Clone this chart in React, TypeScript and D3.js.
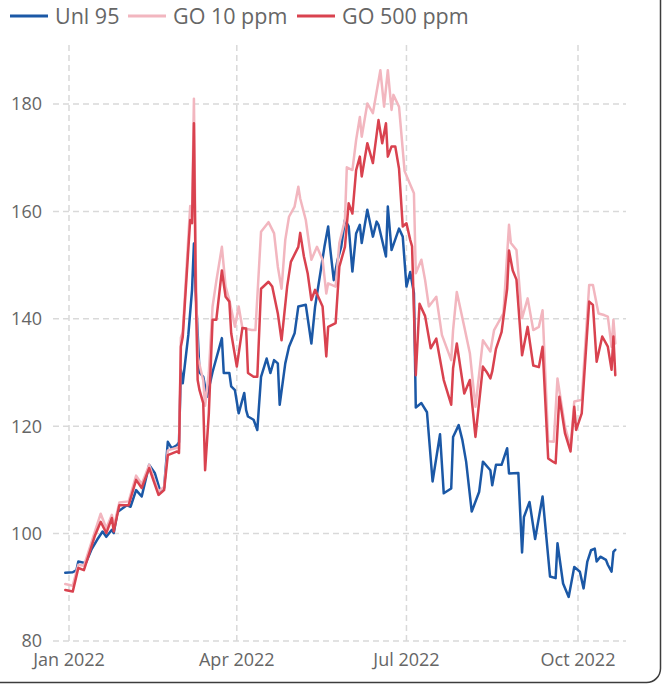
import React from "react";
import * as d3 from "d3";

const unlDates = ["2021-12-30","2022-01-03","2022-01-05","2022-01-06","2022-01-10","2022-01-13","2022-01-16","2022-01-19","2022-01-21","2022-01-24","2022-01-25","2022-01-27","2022-02-01","2022-02-03","2022-02-06","2022-02-09","2022-02-13","2022-02-16","2022-02-19","2022-02-21","2022-02-23","2022-02-25","2022-02-28","2022-03-01","2022-03-02","2022-03-03","2022-03-06","2022-03-08","2022-03-09","2022-03-10","2022-03-12","2022-03-14","2022-03-16","2022-03-19","2022-03-24","2022-03-25","2022-03-28","2022-03-29","2022-03-31","2022-04-02","2022-04-05","2022-04-06","2022-04-07","2022-04-10","2022-04-12","2022-04-14","2022-04-17","2022-04-19","2022-04-21","2022-04-23","2022-04-24","2022-04-27","2022-04-29","2022-05-02","2022-05-04","2022-05-08","2022-05-11","2022-05-13","2022-05-18","2022-05-20","2022-05-21","2022-05-23","2022-05-25","2022-05-27","2022-05-29","2022-05-31","2022-06-02","2022-06-04","2022-06-06","2022-06-07","2022-06-10","2022-06-13","2022-06-15","2022-06-16","2022-06-20","2022-06-21","2022-06-23","2022-06-27","2022-06-29","2022-07-01","2022-07-03","2022-07-05","2022-07-06","2022-07-09","2022-07-12","2022-07-15","2022-07-19","2022-07-21","2022-07-25","2022-07-26","2022-07-29","2022-07-31","2022-08-02","2022-08-05","2022-08-09","2022-08-11","2022-08-15","2022-08-16","2022-08-18","2022-08-21","2022-08-24","2022-08-25","2022-08-30","2022-09-01","2022-09-02","2022-09-05","2022-09-08","2022-09-12","2022-09-16","2022-09-19","2022-09-20","2022-09-23","2022-09-26","2022-09-29","2022-10-02","2022-10-04","2022-10-06","2022-10-08","2022-10-10","2022-10-11","2022-10-13","2022-10-16","2022-10-17","2022-10-19","2022-10-20","2022-10-21"];
const unlValues = [92.7,92.8,93.2,94.8,94.5,97.0,98.8,100.4,99.4,100.7,100.1,104.0,105.3,105.0,108.1,106.9,112.8,111.3,107.8,108.5,117.1,115.9,116.5,117.0,130.5,128.0,137.0,145.4,154.0,144.8,130.0,129.2,125.5,130.1,136.4,129.9,129.9,127.4,126.7,122.4,126.2,123.0,121.8,121.2,119.3,129.2,132.6,129.9,132.3,131.7,124.0,131.7,134.8,137.3,142.3,142.6,135.4,142.3,153.4,157.2,153.4,147.2,150.9,153.4,158.4,157.2,148.8,155.9,157.5,154.1,160.3,155.3,158.1,157.5,151.6,160.9,152.8,156.8,155.3,146.0,148.7,144.8,123.5,124.3,122.6,109.7,118.5,107.5,108.4,118.0,120.2,117.4,113.4,104.1,107.8,113.4,111.8,109.0,112.8,112.8,115.9,111.2,111.3,96.5,103.1,105.9,99.0,106.9,92.0,91.7,98.2,90.7,88.2,93.8,92.9,89.8,94.8,96.9,97.2,94.8,95.7,95.1,94.2,92.9,96.6,97.0];

const go10Dates = ["2021-12-30","2022-01-03","2022-01-06","2022-01-09","2022-01-15","2022-01-18","2022-01-21","2022-01-24","2022-01-25","2022-01-28","2022-02-02","2022-02-06","2022-02-09","2022-02-13","2022-02-18","2022-02-21","2022-02-23","2022-02-28","2022-03-01","2022-03-02","2022-03-03","2022-03-07","2022-03-08","2022-03-09","2022-03-10","2022-03-11","2022-03-12","2022-03-14","2022-03-15","2022-03-17","2022-03-19","2022-03-21","2022-03-24","2022-03-26","2022-03-28","2022-03-31","2022-04-02","2022-04-04","2022-04-09","2022-04-11","2022-04-14","2022-04-18","2022-04-21","2022-04-23","2022-04-25","2022-04-27","2022-04-29","2022-05-02","2022-05-04","2022-05-05","2022-05-08","2022-05-10","2022-05-11","2022-05-14","2022-05-17","2022-05-19","2022-05-20","2022-05-24","2022-05-26","2022-05-29","2022-05-30","2022-06-02","2022-06-04","2022-06-06","2022-06-07","2022-06-10","2022-06-13","2022-06-17","2022-06-19","2022-06-21","2022-06-23","2022-06-24","2022-06-27","2022-06-30","2022-07-03","2022-07-05","2022-07-06","2022-07-09","2022-07-11","2022-07-13","2022-07-17","2022-07-20","2022-07-25","2022-07-26","2022-07-28","2022-08-01","2022-08-04","2022-08-07","2022-08-11","2022-08-15","2022-08-17","2022-08-22","2022-08-25","2022-08-26","2022-08-29","2022-09-01","2022-09-04","2022-09-07","2022-09-10","2022-09-12","2022-09-15","2022-09-18","2022-09-20","2022-09-24","2022-09-27","2022-09-29","2022-10-03","2022-10-07","2022-10-09","2022-10-12","2022-10-15","2022-10-17","2022-10-19","2022-10-20","2022-10-21"];
const go10Values = [90.6,90.3,94.2,94.0,100.5,103.7,101.0,103.5,101.2,105.8,106.0,110.8,109.2,112.8,107.8,108.7,115.5,116.0,115.8,136.5,137.5,161.0,159.0,181.0,150.0,133.0,131.5,128.5,123.8,130.0,142.3,147.0,153.4,146.0,143.5,138.5,142.3,138.3,137.9,137.9,156.2,158.0,155.9,149.7,145.6,154.7,159.0,160.9,164.6,162.4,158.4,153.4,151.0,153.4,151.0,144.7,146.6,146.0,154.1,158.4,168.2,167.7,173.3,177.6,173.9,180.1,178.3,186.3,179.5,186.3,178.9,181.7,179.5,167.5,165.0,163.4,148.5,151.0,147.2,142.3,144.1,137.0,132.3,137.9,145.0,138.5,133.6,123.6,136.0,133.9,137.9,141.0,157.5,154.1,152.8,140.1,143.8,137.9,138.5,141.6,117.2,117.1,128.9,119.9,116.2,124.6,124.9,146.3,146.3,141.0,140.7,140.4,134.8,139.8,135.4];

const go500Dates = ["2021-12-30","2022-01-03","2022-01-06","2022-01-09","2022-01-15","2022-01-18","2022-01-21","2022-01-24","2022-01-25","2022-01-28","2022-02-02","2022-02-06","2022-02-09","2022-02-13","2022-02-18","2022-02-21","2022-02-23","2022-02-28","2022-03-01","2022-03-02","2022-03-03","2022-03-07","2022-03-08","2022-03-09","2022-03-10","2022-03-11","2022-03-12","2022-03-14","2022-03-15","2022-03-17","2022-03-19","2022-03-21","2022-03-24","2022-03-26","2022-03-28","2022-03-29","2022-04-01","2022-04-04","2022-04-06","2022-04-07","2022-04-10","2022-04-12","2022-04-14","2022-04-18","2022-04-20","2022-04-23","2022-04-25","2022-04-28","2022-04-30","2022-05-04","2022-05-05","2022-05-07","2022-05-09","2022-05-10","2022-05-11","2022-05-13","2022-05-17","2022-05-19","2022-05-20","2022-05-24","2022-05-26","2022-05-29","2022-05-31","2022-06-02","2022-06-04","2022-06-06","2022-06-07","2022-06-10","2022-06-13","2022-06-16","2022-06-18","2022-06-20","2022-06-21","2022-06-23","2022-06-25","2022-06-27","2022-06-29","2022-07-01","2022-07-03","2022-07-04","2022-07-06","2022-07-08","2022-07-11","2022-07-14","2022-07-17","2022-07-21","2022-07-25","2022-07-26","2022-07-28","2022-08-01","2022-08-04","2022-08-07","2022-08-11","2022-08-13","2022-08-15","2022-08-16","2022-08-18","2022-08-21","2022-08-24","2022-08-25","2022-08-27","2022-08-29","2022-09-01","2022-09-04","2022-09-07","2022-09-10","2022-09-12","2022-09-15","2022-09-18","2022-09-19","2022-09-21","2022-09-24","2022-09-27","2022-09-29","2022-09-30","2022-10-03","2022-10-07","2022-10-09","2022-10-11","2022-10-14","2022-10-17","2022-10-19","2022-10-20","2022-10-21"];
const go500Values = [89.5,89.2,93.6,93.2,99.7,102.2,100.1,102.9,100.4,105.3,105.3,110.0,108.5,112.2,107.2,108.1,114.6,115.3,115.0,134.8,136.6,158.4,157.8,176.4,145.0,128.6,126.7,124.3,111.8,122.4,139.8,139.8,149.0,144.1,143.2,137.3,131.1,138.3,138.2,129.9,129.2,129.2,145.6,146.9,146.0,141.0,136.0,146.0,150.6,153.4,156.0,151.6,148.5,146.0,143.5,145.4,142.3,133.0,138.5,139.2,149.7,153.4,161.5,159.6,167.7,170.2,166.5,172.7,169.0,177.0,172.7,176.4,170.2,172.1,172.1,168.0,157.2,157.8,154.7,153.5,129.5,142.8,140.5,134.5,136.3,128.6,124.0,130.8,135.4,126.1,128.6,118.0,131.1,130.1,128.9,130.2,134.4,137.5,145.6,152.7,149.0,147.3,133.2,138.5,131.3,131.0,134.8,114.0,113.3,113.1,125.5,118.7,115.3,123.6,119.3,122.4,143.2,142.6,132.0,136.7,134.8,130.5,136.7,129.5];

const seriesNames = ["Unl 95", "GO 10 ppm", "GO 500 ppm"];
const seriesColors = ["#1b58a6", "#f2b6bf", "#d9424f"];
const yTicks = [80, 100, 120, 140, 160, 180];
const xTickDates = ["2022-01-01", "2022-04-01", "2022-07-01", "2022-10-01"];
const xTickLabels = ["Jan 2022", "Apr 2022", "Jul 2022", "Oct 2022"];

const parse = d3.timeParse("%Y-%m-%d");

export default function App() {
  const W = 667, H = 684;
  const plotLeft = 53, plotRight = 626, plotTop = 45, plotBottom = 641;
  const x = d3.scaleTime().domain([parse("2022-01-01")!, parse("2022-10-01")!]).range([69, 578]);
  const y = d3.scaleLinear().domain([80, 180]).range([641, 104]);

  const mk = (dates: string[], vals: number[]) => dates.map((d, i) => ({ date: parse(d)!, v: vals[i] }));
  const series = [mk(unlDates, unlValues), mk(go10Dates, go10Values), mk(go500Dates, go500Values)];
  const line = d3.line<{ date: Date; v: number }>().x(d => x(d.date)).y(d => y(d.v));

  const font = "'Open Sans', 'Noto Sans', sans-serif";
  const textColor = "#666666";
  const legendX = [10, 128, 297];
  const legendW = 38;

  return (
    <svg width={W} height={H} style={{ position: "absolute", left: 0, top: 0 }} fontFamily={font}>
      <rect x={0} y={0} width={W} height={H} fill="#ffffff" />
      <rect x={-14} y={-20} width={674.5} height={702.5} rx={14} fill="none" stroke="#3c3c3c" strokeWidth={1.5} />
      {yTicks.map(t => (
        <g key={"y" + t}>
          <line x1={plotLeft} x2={plotRight} y1={y(t)} y2={y(t)} stroke="#d9d9d9" strokeWidth={1.5} strokeDasharray="6,4" />
          <text x={42} y={y(t)} dy="0.36em" textAnchor="end" fontSize={18} fill={textColor}>{t}</text>
        </g>
      ))}
      {xTickDates.map((d, i) => (
        <g key={"x" + d}>
          <line x1={x(parse(d)!)} x2={x(parse(d)!)} y1={plotTop} y2={plotBottom + 2} stroke="#d9d9d9" strokeWidth={1.5} strokeDasharray="6,4" />
          <text x={x(parse(d)!)} y={660} dy="0.36em" textAnchor="middle" fontSize={18} fill={textColor}>{xTickLabels[i]}</text>
        </g>
      ))}
      {series.map((s, i) => (
        <path key={"s" + i} d={line(s) || ""} fill="none" stroke={seriesColors[i]} strokeWidth={2.5} strokeLinejoin="round" strokeLinecap="round" />
      ))}
      {seriesNames.map((n, i) => (
        <g key={"l" + n}>
          <line x1={legendX[i]} x2={legendX[i] + legendW} y1={16} y2={16} stroke={seriesColors[i]} strokeWidth={3} />
          <text x={legendX[i] + legendW + 7} y={16} dy="0.36em" fontSize={21.5} fill={textColor}>{n}</text>
        </g>
      ))}
    </svg>
  );
}
